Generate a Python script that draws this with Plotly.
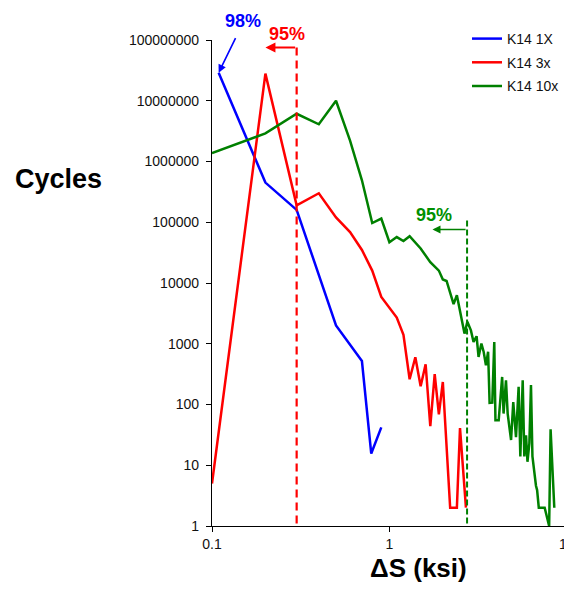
import math
import plotly.graph_objects as go

# ---------------- data ----------------
blue_x = [0.109, 0.2, 0.3, 0.5, 0.7, 0.79, 0.9]
blue_y = [2.9e7, 4.5e5, 1.6e5, 2.0e3, 520, 15.6, 42]

red_x = [0.1, 0.2, 0.3, 0.4, 0.5, 0.6, 0.7, 0.8, 0.9, 1.1, 1.2, 1.3, 1.4, 1.5,
         1.6, 1.7, 1.8, 1.9, 2.0, 2.2, 2.4, 2.5, 2.7]
red_y = [5, 2.8e7, 1.9e5, 3.0e5, 1.2e5, 6.9e4, 3.5e4, 1.6e4, 5.9e3, 2.7e3, 1.4e3,
         260, 600, 200, 460, 44, 316, 69, 235, 2, 2, 41, 2]

green_x = [0.1, 0.2, 0.3, 0.4, 0.5, 0.6, 0.7, 0.8, 0.9, 1.0, 1.1, 1.2, 1.3, 1.5,
           1.7, 1.9, 2.0, 2.1, 2.3, 2.4, 2.65, 2.75, 2.88, 2.98, 3.1, 3.18, 3.3,
           3.4, 3.5, 3.6, 3.67, 3.8, 3.9, 3.96, 4.13, 4.32, 4.4, 4.54, 4.64,
           4.85, 4.99, 5.17, 5.35, 5.47, 5.64, 5.76, 5.89, 6.0, 6.15, 6.28, 6.4,
           6.55, 6.7, 6.8, 6.95, 7.5, 7.95, 8.1, 8.5]
green_y = [1.37e6, 2.9e6, 6.1e6, 4.1e6, 1.0e7, 2.2e6, 4.9e5, 9.7e4, 1.15e5, 4.7e4,
           5.7e4, 4.9e4, 5.9e4, 3.7e4, 2.2e4, 1.6e4, 1.14e4, 1.08e4, 4.5e3, 6.3e3,
           1.47e3, 2.3e3, 1.66e3, 1.07e3, 1.33e3, 607, 1007, 733, 443, 740, 106,
           107, 1070, 55, 55, 284, 71, 251, 71, 26, 110, 29, 195, 14, 250, 14, 31,
           11.4, 23, 209, 14, 7, 4.6, 3.9, 2, 2, 1, 39, 2]

series_names = ["K14 1X", "K14 3x", "K14 10x"]
y_tickvals = [1, 10, 100, 1000, 10000, 100000, 1000000, 10000000, 100000000]
y_ticktext = ["1", "10", "100", "1000", "10000", "100000", "1000000", "10000000", "100000000"]
x_tickvals = [0.1, 1, 10]
x_ticktext = ["0.1", "1", "10"]

# 95% / 98% markers
red_cut_x, red_cut_top, red_arrow_to = 0.3, 7.5e7, 0.2
green_cut_x, green_cut_top, green_arrow_y, green_arrow_to = 2.74, 1.07e5, 7.6e4, 1.75
blue_arrow_head = (0.109, 2.9e7)
blue_arrow_tail = (0.137, 1.14e8)
green_label_pos = (1.79, 1.3e5)

BLUE, RED, GREEN = "#0000FF", "#FF0000", "#008000"
FONT = "Liberation Sans, Arial, sans-serif"

# ---------------- figure ----------------
fig = go.Figure()
fig.add_trace(go.Scatter(x=blue_x, y=blue_y, mode="lines", name=series_names[0],
                         legendgroup="a", line=dict(color=BLUE, width=2.5)))
fig.add_trace(go.Scatter(x=red_x, y=red_y, mode="lines", name=series_names[1],
                         legendgroup="b", line=dict(color=RED, width=2.5)))
fig.add_trace(go.Scatter(x=green_x, y=green_y, mode="lines", name=series_names[2],
                         legendgroup="c", line=dict(color=GREEN, width=2.5)))

# dashed cut lines
fig.add_trace(go.Scatter(x=[red_cut_x, red_cut_x], y=[red_cut_top, 1], mode="lines",
                         showlegend=False, hoverinfo="skip",
                         line=dict(color=RED, width=2.2, dash="8px,5px")))
fig.add_trace(go.Scatter(x=[green_cut_x, green_cut_x], y=[green_cut_top, 1], mode="lines",
                         showlegend=False, hoverinfo="skip",
                         line=dict(color=GREEN, width=2, dash="6px,3px")))

OFF = 8  # page body margin
W, H = 572 - OFF, 591 - OFF
L, T = 212 - OFF, 40 - OFF
PR, PB = 567 - OFF, 526 - OFF
R, B = W - PR, H - PB
PW, PH = PR - L, PB - T


def xp(px):
    return (px - OFF - L) / PW


def yp(py):
    return 1 - (py - OFF - T) / PH


lg = math.log10
annotations = [
    # arrows
    dict(x=lg(red_arrow_to), y=lg(red_cut_top), ax=lg(red_cut_x), ay=lg(red_cut_top),
         xref="x", yref="y", axref="x", ayref="y", showarrow=True, text="",
         arrowhead=2, arrowsize=1, arrowwidth=2, arrowcolor=RED, standoff=0),
    dict(x=lg(green_arrow_to), y=lg(green_arrow_y), ax=lg(green_cut_x), ay=lg(green_arrow_y),
         xref="x", yref="y", axref="x", ayref="y", showarrow=True, text="",
         arrowhead=2, arrowsize=1, arrowwidth=1.6, arrowcolor=GREEN, standoff=0),
    dict(x=lg(blue_arrow_head[0]), y=lg(blue_arrow_head[1]),
         ax=lg(blue_arrow_tail[0]), ay=lg(blue_arrow_tail[1]),
         xref="x", yref="y", axref="x", ayref="y", showarrow=True, text="",
         arrowhead=2, arrowsize=1, arrowwidth=1.6, arrowcolor=BLUE, standoff=0),
    # percent labels
    dict(x=xp(243), y=yp(21), xref="paper", yref="paper", text="<b>98%</b>",
         showarrow=False, xanchor="center", yanchor="middle",
         font=dict(family=FONT, size=18, color=BLUE)),
    dict(x=xp(287), y=yp(34), xref="paper", yref="paper", text="<b>95%</b>",
         showarrow=False, xanchor="center", yanchor="middle",
         font=dict(family=FONT, size=18, color=RED)),
    dict(x=lg(green_label_pos[0]), y=lg(green_label_pos[1]), xref="x", yref="y",
         text="<b>95%</b>", showarrow=False, xanchor="center", yanchor="middle",
         font=dict(family=FONT, size=18, color="#009000")),
    # axis titles
    dict(x=xp(58), y=yp(179), xref="paper", yref="paper", text="<b>Cycles</b>",
         showarrow=False, xanchor="center", yanchor="middle",
         font=dict(family=FONT, size=27, color="black")),
    dict(x=xp(418), y=yp(568), xref="paper", yref="paper", text="<b>ΔS (ksi)</b>",
         showarrow=False, xanchor="center", yanchor="middle",
         font=dict(family=FONT, size=26, color="black")),
]

axis_common = dict(showgrid=False, zeroline=False, showline=True, linecolor="black",
                   linewidth=1.3, ticks="outside", ticklen=5, tickwidth=1.3,
                   tickcolor="black", tickfont=dict(family=FONT, size=14, color="#111"),
                   ticklabeloverflow="allow")

fig.update_layout(
    width=W, height=H,
    margin=dict(l=L, r=R, t=T, b=B, autoexpand=False),
    paper_bgcolor="white", plot_bgcolor="white",
    showlegend=True,
    legend=dict(x=xp(467), y=yp(23), xanchor="left", yanchor="top",
                bgcolor="rgba(0,0,0,0)", font=dict(family=FONT, size=14, color="#111"),
                itemwidth=30, traceorder="grouped", tracegroupgap=2.5),
    annotations=annotations,
)
fig.update_xaxes(type="log", range=[-1, 1.001], tickvals=x_tickvals, ticktext=x_ticktext,
                 **axis_common)
fig.update_yaxes(type="log", range=[0, 8], tickvals=y_tickvals, ticktext=y_ticktext,
                 ticklabelstandoff=4, **axis_common)

fig.write_html("out.html")
